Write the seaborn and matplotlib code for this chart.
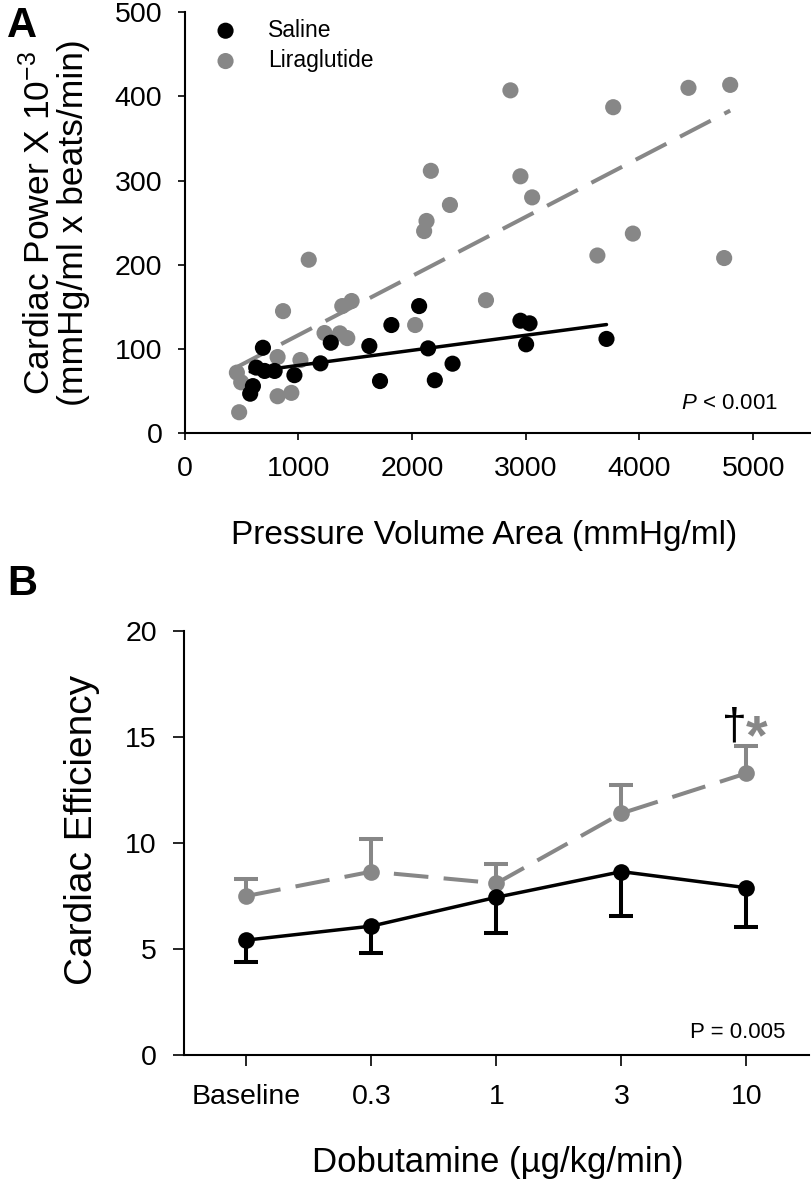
import matplotlib
matplotlib.use("Agg")
import matplotlib.pyplot as plt
import seaborn as sns
import numpy as np
import pandas as pd

# ---- data ----
saline_pva = [576, 600, 629, 688, 703, 791, 965, 1194, 1285, 1624,
              1718, 1818, 2062, 2141, 2200, 2356, 2953, 3003, 3033, 3710]
saline_power = [47, 56, 78, 101.5, 74, 74, 69, 83, 107.5, 103.6,
                62, 128.5, 151, 100.8, 63, 82.6, 133.6, 105.6, 130.5, 112]

lira_pva = [459, 479, 497, 817, 817, 865, 938, 1018, 1091, 1230,
            1365, 1386, 1430, 1468, 2027, 2106, 2127, 2165, 2333, 2650,
            2865, 2953, 3056, 3630, 3769, 3942, 4431, 4745, 4798]
lira_power = [72, 25, 60.5, 90.5, 44, 145, 48, 87, 206, 119,
              118.6, 151, 113, 157, 128.5, 240, 252, 311.5, 271, 158,
              407, 305, 280, 211, 387, 237, 410, 208, 413.5]

doses = ["Baseline", "0.3", "1", "3", "10"]
saline_eff = [5.42, 6.08, 7.44, 8.65, 7.89]
saline_sem = [1.02, 1.28, 1.67, 2.09, 1.84]
lira_eff = [7.5, 8.65, 8.1, 11.4, 13.29]
lira_sem = [0.80, 1.54, 0.90, 1.34, 1.30]

BLACK = "#000000"
GRAY = "#878787"

sns.set_theme(style="ticks")
plt.rcParams["font.family"] = ["Liberation Sans", "DejaVu Sans"]
plt.rcParams["mathtext.fontset"] = "custom"
plt.rcParams["mathtext.rm"] = "Liberation Sans"
plt.rcParams["mathtext.it"] = "Liberation Sans:italic"
plt.rcParams["mathtext.default"] = "regular"
plt.rcParams["axes.linewidth"] = 1.5
for key in ["text.color", "axes.labelcolor", "axes.edgecolor", "xtick.color", "ytick.color"]:
    plt.rcParams[key] = "black"

fig = plt.figure(figsize=(8.12, 11.83), dpi=100)
W, H = 812, 1183

def px_axes(left, top, right, bottom):
    return fig.add_axes([left / W, 1 - bottom / H, (right - left) / W, (bottom - top) / H])

def one_sided_errorbar(axis, x, y, err, color, upward, z):
    # error bar drawn only on one side of the mean (up for one group, down for the other)
    lower = np.zeros(len(x)) if upward else np.asarray(err)
    upper = np.asarray(err) if upward else np.zeros(len(x))
    _, caps, _ = axis.errorbar(x, y, yerr=[lower, upper], fmt="none", ecolor=color,
                               elinewidth=2.9, capsize=8.7, capthick=2.9, zorder=z)
    for cap in caps:
        if np.allclose(cap.get_ydata(), y):
            cap.set_visible(False)

# ================= Panel A =================
ax = px_axes(184.7, 12, 810, 433.3)
df_a = pd.DataFrame({
    "pva": saline_pva + lira_pva,
    "power": saline_power + lira_power,
    "group": ["Saline"] * len(saline_pva) + ["Liraglutide"] * len(lira_pva),
})

sns.scatterplot(data=df_a[df_a.group == "Liraglutide"], x="pva", y="power",
                color=GRAY, s=135, edgecolor="none", ax=ax, label="Liraglutide", zorder=2)
sns.regplot(x=lira_pva, y=lira_power, ax=ax, scatter=False, ci=None, color=GRAY,
            line_kws=dict(lw=2.9, dashes=(8.6, 3.8), zorder=3))
sns.scatterplot(data=df_a[df_a.group == "Saline"], x="pva", y="power",
                color=BLACK, s=135, edgecolor="none", ax=ax, label="Saline", zorder=4)
sns.regplot(x=saline_pva, y=saline_power, ax=ax, scatter=False, ci=None, color=BLACK,
            line_kws=dict(lw=2.5, zorder=5))

ax.set_xlim(0, 5500)
ax.set_ylim(0, 500)
ax.set_xticks(range(0, 5001, 1000))
ax.set_yticks(range(0, 501, 100))
ax.tick_params(axis="both", length=5, width=1.2, labelsize=20.5, pad=11)
sns.despine(ax=ax)

ax.set_xlabel("Pressure Volume Area (mmHg/ml)", fontsize=24)
ax.xaxis.set_label_coords(0.479, -0.205)
ax.set_ylabel("Cardiac Power X 10$^{-3}$\n(mmHg/ml x beats/min)", fontsize=25.5, linespacing=1.0)
ax.yaxis.set_label_coords(-0.151, 0.50)

handles, labels = ax.get_legend_handles_labels()
order = [labels.index("Saline"), labels.index("Liraglutide")]
ax.legend([handles[i] for i in order], [labels[i] for i in order],
          loc="upper left", bbox_to_anchor=(0.047, 0.984), borderaxespad=0,
          frameon=False, fontsize=16.5, handlelength=1.0, handletextpad=1.35,
          labelspacing=0.32, borderpad=0)

ax.text(0.949, 0.057, r"$\mathit{P}$ < 0.001", transform=ax.transAxes,
        ha="right", va="baseline", fontsize=16)

# ================= Panel B =================
axb = px_axes(184, 631, 809, 1055)
xpos = np.arange(len(doses))

one_sided_errorbar(axb, xpos, lira_eff, lira_sem, GRAY, upward=True, z=1)
sns.lineplot(x=xpos, y=lira_eff, ax=axb, color=GRAY, lw=2.9, linestyle=(0, (8.6, 3.8)),
             marker="o", markersize=12, markeredgewidth=0, zorder=2)
one_sided_errorbar(axb, xpos, saline_eff, saline_sem, BLACK, upward=False, z=3)
sns.lineplot(x=xpos, y=saline_eff, ax=axb, color=BLACK, lw=2.5,
             marker="o", markersize=12, markeredgewidth=0, zorder=4)

axb.set_xlim(-0.5, 4.5)
axb.set_ylim(0, 20)
axb.set_xticks(xpos)
axb.set_xticklabels(doses)
axb.set_yticks(range(0, 21, 5))
axb.tick_params(axis="both", length=8, width=1.2, labelsize=20.5)
axb.tick_params(axis="y", pad=11.5)
axb.tick_params(axis="x", pad=13)
sns.despine(ax=axb)

axb.set_xlabel("Dobutamine (\u00b5g/kg/min)", fontsize=25)
axb.xaxis.set_label_coords(0.502, -0.215)
axb.set_ylabel("Cardiac Efficiency", fontsize=28)
axb.yaxis.set_label_coords(-0.134, 0.53)

axb.text(3.906, 14.92, "\u2020", ha="center", va="baseline", fontsize=32, color=BLACK)
axb.text(4.08, 14.22, "*", ha="center", va="baseline", fontsize=40,
         fontweight="bold", color=GRAY)
axb.text(0.962, 0.039, "P = 0.005", transform=axb.transAxes,
         ha="right", va="baseline", fontsize=16)

# panel letters
fig.text(7 / W, 1 - 37 / H, "A", fontsize=30, fontweight="bold", va="baseline")
fig.text(7 / W, 1 - 595 / H, "B", fontsize=30, fontweight="bold", va="baseline")

fig.savefig("out.png", dpi=100)
